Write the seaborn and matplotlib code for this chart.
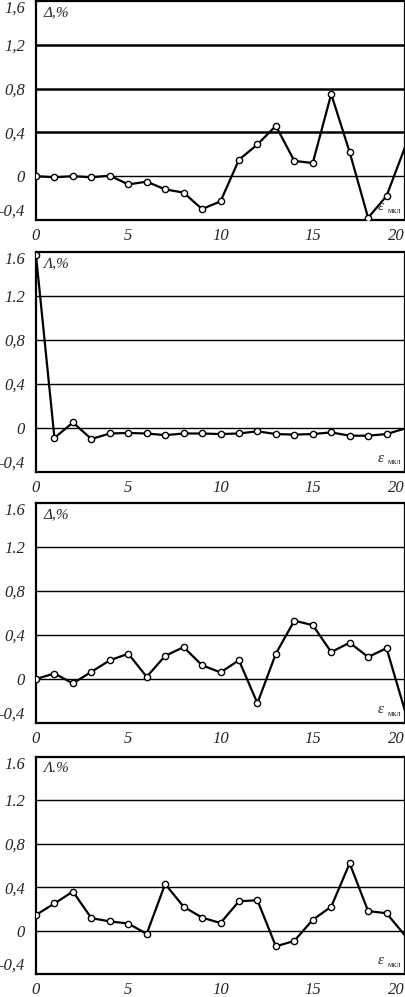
import numpy as np
import pandas as pd
import matplotlib
matplotlib.use("Agg")
import matplotlib.pyplot as plt
import seaborn as sns

sns.set_style("white")
plt.rcParams['font.family'] = ['Liberation Serif', 'DejaVu Serif']

x = list(range(21))
delta1 = [0.0, -0.01, 0.0, -0.01, 0.005, -0.075, -0.05, -0.12, -0.15, -0.30, -0.23,
          0.15, 0.29, 0.46, 0.14, 0.12, 0.75, 0.22, -0.38, -0.18, 0.265]
delta2 = [1.57, -0.09, 0.05, -0.10, -0.05, -0.045, -0.05, -0.065, -0.05, -0.05, -0.055,
          -0.05, -0.03, -0.055, -0.06, -0.055, -0.04, -0.07, -0.07, -0.055, -0.005]
delta3 = [0.0, 0.05, -0.04, 0.065, 0.17, 0.23, 0.02, 0.21, 0.29, 0.125, 0.06,
          0.17, -0.22, 0.23, 0.53, 0.49, 0.245, 0.33, 0.20, 0.28, -0.29]
delta4 = [0.145, 0.25, 0.36, 0.115, 0.085, 0.065, -0.03, 0.43, 0.22, 0.12, 0.07,
          0.27, 0.28, -0.145, -0.095, 0.10, 0.22, 0.62, 0.18, 0.16, -0.045]

series = [delta1, delta2, delta3, delta4]
ylabels = ["Δ,%", "Λ,%", "Δ,%", "Λ.%"]
ytick_vals = [-0.4, 0, 0.4, 0.8, 1.2, 1.6]
yticks_comma = ["-0,4", "0", "0,4", "0,8", "1,2", "1,6"]
yticks_dot = ["-0,4", "0", "0,4", "0,8", "1.2", "1.6"]
xtick_vals = [0, 5, 10, 15, 20]

W, H = 406, 997
fig = plt.figure(figsize=(W / 100, H / 100), dpi=100)

# (top, bottom) of each panel in pixels
boxes = [(1, 220), (252, 472), (503, 723), (757, 974)]
left, right = 36, 405

for i, (vals, (top, bot)) in enumerate(zip(series, boxes)):
    ax = fig.add_axes([left / W, 1 - bot / H, (right - left) / W, (bot - top) / H])
    df = pd.DataFrame({"eps": x, "delta": vals})

    grid_lw = 1.8 if i == 0 else 1.0
    for g in [0.4, 0.8, 1.2]:
        ax.axhline(g, color="black", lw=grid_lw, zorder=1)
    ax.axhline(0, color="black", lw=1.0, zorder=1)

    sns.lineplot(data=df, x="eps", y="delta", ax=ax, color="black", lw=1.6,
                 marker="o", markersize=4.5, markerfacecolor="white",
                 markeredgecolor="black", markeredgewidth=1.0,
                 markevery=list(range(20)), zorder=3)

    ax.set_xlim(0, 20)
    ax.set_ylim(-0.4, 1.6)
    ax.set_xticks(xtick_vals)
    ax.set_xticklabels([str(v) for v in xtick_vals], fontstyle="italic", fontsize=12)
    ax.set_yticks(ytick_vals)
    ax.set_yticklabels(yticks_comma if i == 0 else yticks_dot,
                       fontstyle="italic", fontsize=12)
    ax.tick_params(axis="x", direction="in", length=3, width=1, pad=6)
    ax.tick_params(axis="y", direction="out", length=3, width=1, pad=5)
    ax.get_xticklabels()[-1].set_ha("right")
    ax.get_yticklabels()[-1].set_va("top")
    ax.get_yticklabels()[0].set_va("bottom")
    ax.set_xlabel("")
    ax.set_ylabel("")
    for s in ax.spines.values():
        s.set_linewidth(1.6)
        s.set_color("black")

    ax.text(0.02, 0.975, ylabels[i], transform=ax.transAxes, ha="left", va="top",
            fontsize=11, fontstyle="italic")
    ax.text(0.925, 0.03, "ε", transform=ax.transAxes, ha="left", va="bottom",
            fontsize=11, fontstyle="italic")
    ax.text(0.953, 0.025, "мкл", transform=ax.transAxes, ha="left", va="bottom",
            fontsize=6)

fig.savefig("out.png", dpi=100)
